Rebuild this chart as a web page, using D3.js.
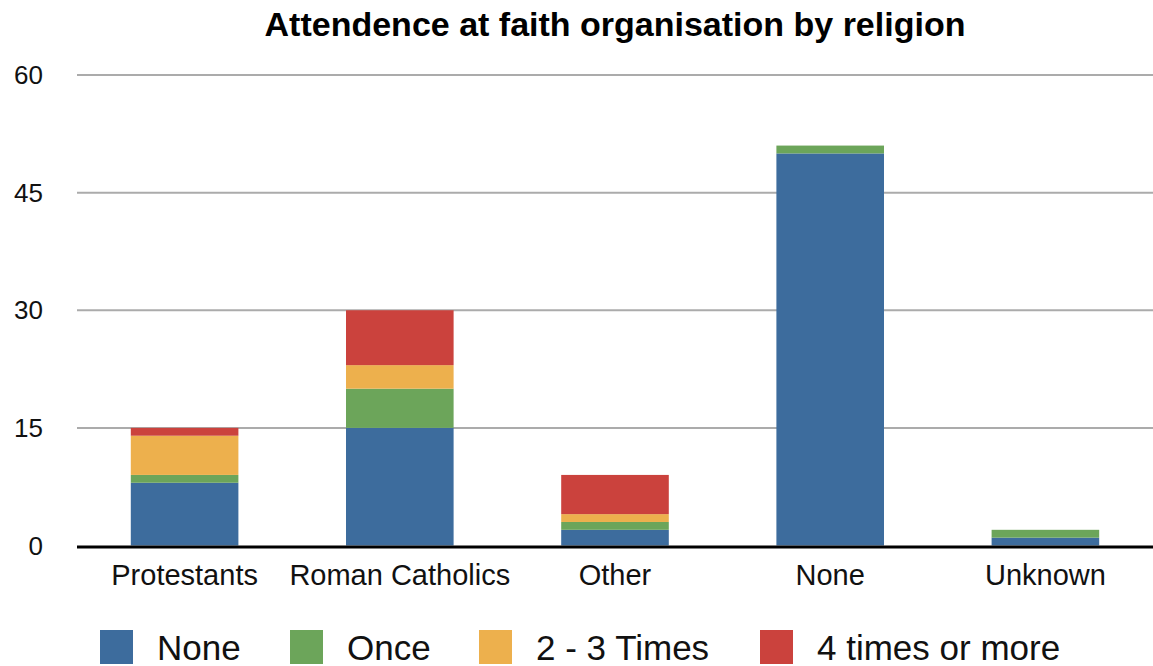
<!DOCTYPE html>
<html>
<head>
<meta charset="utf-8">
<script src="https://cdn.jsdelivr.net/npm/d3@7"></script>
<style>
  html, body { margin: 0; padding: 0; background: #fff; }
  svg { display: block; font-family: "Liberation Sans", Arial, Helvetica, sans-serif; }
</style>
</head>
<body>
<svg id="chart" width="1153" height="666"></svg>
<script>
// Religions along the x axis
const categories = ["Protestants", "Roman Catholics", "Other", "None", "Unknown"];

// Attendance frequency series (stacked bottom to top)
const seriesNames = ["None", "Once", "2 - 3 Times", "4 times or more"];
const attendNone = [8, 15, 2, 50, 1];
const attendOnce = [1, 5, 1, 1, 1];
const attendTwoThree = [5, 3, 1, 0, 0];
const attendFourPlus = [1, 7, 5, 0, 0];

const yTicks = [0, 15, 30, 45, 60];
const colors = ["#3d6c9d", "#6ca55a", "#edb04d", "#cb423d"];

const svg = d3.select("#chart");
const W = 1153;

const x = d3.scaleBand().domain(categories).range([77, 1153]).paddingInner(0.5).paddingOuter(0.25);
const y = d3.scaleLinear().domain([0, 60]).range([545.5, 75]);

// Table of rows for the stack layout
const seriesArrays = [attendNone, attendOnce, attendTwoThree, attendFourPlus];
const rows = categories.map((c, i) => {
  const r = { category: c };
  seriesNames.forEach((s, k) => { r[s] = seriesArrays[k][i]; });
  return r;
});
const stacked = d3.stack().keys(seriesNames)(rows);

// Horizontal gridlines
svg.append("g")
  .selectAll("line")
  .data(yTicks.filter(t => t > 0))
  .join("line")
  .attr("x1", 77).attr("x2", W)
  .attr("y1", d => y(d)).attr("y2", d => y(d))
  .attr("stroke", "#ababab").attr("stroke-width", 2);

// Y tick labels
svg.append("g")
  .selectAll("text")
  .data(yTicks)
  .join("text")
  .attr("x", 43).attr("y", d => y(d) + 9)
  .attr("text-anchor", "end")
  .attr("font-size", 26)
  .attr("fill", "#111")
  .text(d => d);

// Stacked bars
svg.append("g")
  .selectAll("g")
  .data(stacked)
  .join("g")
  .attr("fill", (d, i) => colors[i])
  .selectAll("rect")
  .data(d => d.filter(p => p[1] > p[0]))
  .join("rect")
  .attr("x", d => x(d.data.category))
  .attr("width", x.bandwidth())
  .attr("y", d => y(d[1]))
  .attr("height", d => y(d[0]) - y(d[1]));

// Baseline
svg.append("line")
  .attr("x1", 77).attr("x2", W)
  .attr("y1", y(0) + 1.5).attr("y2", y(0) + 1.5)
  .attr("stroke", "#000").attr("stroke-width", 3);

// Category labels
svg.append("g")
  .selectAll("text")
  .data(categories)
  .join("text")
  .attr("x", d => x(d) + x.bandwidth() / 2)
  .attr("y", 585)
  .attr("text-anchor", "middle")
  .attr("font-size", 29)
  .attr("fill", "#111")
  .text(d => d);

// Title
svg.append("text")
  .attr("x", 615).attr("y", 36)
  .attr("text-anchor", "middle")
  .attr("font-size", 34)
  .attr("font-weight", "bold")
  .attr("fill", "#000")
  .text("Attendence at faith organisation by religion");

// Legend
const legendX = [100, 290, 479, 760];
const legend = svg.append("g")
  .selectAll("g")
  .data(seriesNames)
  .join("g")
  .attr("transform", (d, i) => `translate(${legendX[i]},630)`);
legend.append("rect")
  .attr("width", 33).attr("height", 34)
  .attr("fill", (d, i) => colors[i]);
legend.append("text")
  .attr("x", 57).attr("y", 30)
  .attr("font-size", 35)
  .attr("fill", "#111")
  .text(d => d);
</script>
</body>
</html>
